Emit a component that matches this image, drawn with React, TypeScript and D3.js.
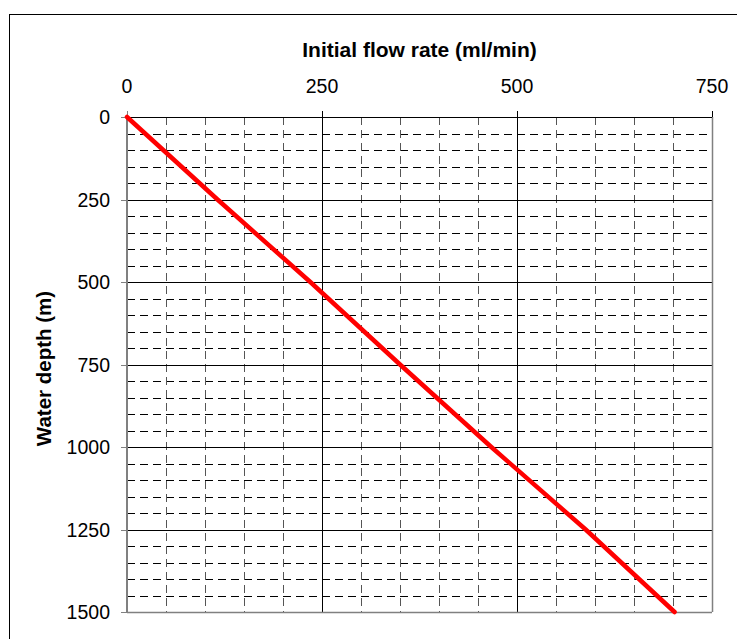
import React from 'react';
import * as d3 from 'd3';

// depth (m) against initial flow rate (ml/min)
const depths = [0, 250, 500, 750, 1000, 1250, 1500];
const flowRates = [0, 116, 235, 350, 467, 588, 702];

const xTicks = [0, 250, 500, 750];
const yTicks = [0, 250, 500, 750, 1000, 1250, 1500];
const minorStep = 50;

const W = 737;
const H = 639;
const margin = { left: 127, top: 117, right: 25, bottom: 27 };

const App: React.FC = () => {
  const x = d3.scaleLinear().domain([0, 750]).range([margin.left, W - margin.right]);
  const y = d3.scaleLinear().domain([0, 1500]).range([margin.top, H - margin.bottom]);

  const xMinor = d3.range(0, 750 + 1, minorStep).filter(v => v % 250 !== 0);
  const yMinor = d3.range(0, 1500 + 1, minorStep).filter(v => v % 250 !== 0);

  const line = d3.line<number>()
    .x((_, i) => x(flowRates[i]))
    .y(d => y(d));

  const [x0, x1] = x.range();
  const [y0, y1] = y.range();
  const font = 'Arial, "Liberation Sans", sans-serif';
  const px = (v: number) => Math.round(v) + 0.5;

  return (
    <svg
      width={W}
      height={H}
      style={{ position: 'absolute', left: 0, top: 0, background: '#fff' }}
      fontFamily={font}
    >
      <rect x={9.5} y={14.5} width={760} height={660} fill="#fff" stroke="#000" strokeWidth={1} />

      {/* minor grid */}
      {yMinor.map(v => (
        <line key={'ym' + v} x1={x0} x2={x1} y1={px(y(v))} y2={px(y(v))}
          stroke="#000" strokeWidth={1} strokeDasharray="8,5" />
      ))}
      {xMinor.map(v => (
        <line key={'xm' + v} x1={px(x(v))} x2={px(x(v))} y1={y0} y2={y1}
          stroke="#555" strokeWidth={1} strokeDasharray="8,5" />
      ))}

      {/* major grid */}
      {yTicks.slice(1, -1).map(v => (
        <line key={'yM' + v} x1={x0} x2={x1} y1={px(y(v))} y2={px(y(v))} stroke="#000" strokeWidth={1} />
      ))}
      {xTicks.slice(1, -1).map(v => (
        <line key={'xM' + v} x1={px(x(v))} x2={px(x(v))} y1={y0} y2={y1} stroke="#000" strokeWidth={1} />
      ))}

      {/* plot border */}
      <line x1={px(x1)} x2={px(x1)} y1={y0} y2={y1} stroke="#808080" strokeWidth={1.5} />
      <line x1={x0} x2={x1} y1={px(y1)} y2={px(y1)} stroke="#808080" strokeWidth={1.5} />

      {/* top x axis */}
      <line x1={x0} x2={x1} y1={px(y0)} y2={px(y0)} stroke="#000" strokeWidth={1} />
      {xTicks.map(v => (
        <g key={'xt' + v}>
          <line x1={px(x(v))} x2={px(x(v))} y1={y0 - 6} y2={y0}
            stroke={v === 0 ? '#808080' : '#000'} strokeWidth={1} />
          <text x={x(v)} y={93} textAnchor="middle" fontSize={19.5} fill="#000">{v}</text>
        </g>
      ))}
      <text x={(x0 + x1) / 2} y={57} textAnchor="middle" fontSize={21} fontWeight="bold" fill="#000">
        Initial flow rate (ml/min)
      </text>

      {/* left y axis */}
      <line x1={x0} x2={x0} y1={y0} y2={y1} stroke="#808080" strokeWidth={2} />
      {yTicks.map(v => (
        <g key={'yt' + v}>
          <line x1={x0 - 6} x2={x0} y1={px(y(v))} y2={px(y(v))} stroke="#808080" strokeWidth={1} />
          <text x={110} y={y(v)} dy="0.36em" textAnchor="end" fontSize={19.5} fill="#000">{v}</text>
        </g>
      ))}
      <text
        transform={`translate(51,${(y0 + y1) / 2 + 4}) rotate(-90)`}
        textAnchor="middle"
        fontSize={20.5}
        fontWeight="bold"
        fill="#000"
      >
        Water depth (m)
      </text>

      {/* series */}
      <path d={line(depths) || ''} fill="none" stroke="#ff0000" strokeWidth={4.5} strokeLinecap="round" />
    </svg>
  );
};

export default App;
